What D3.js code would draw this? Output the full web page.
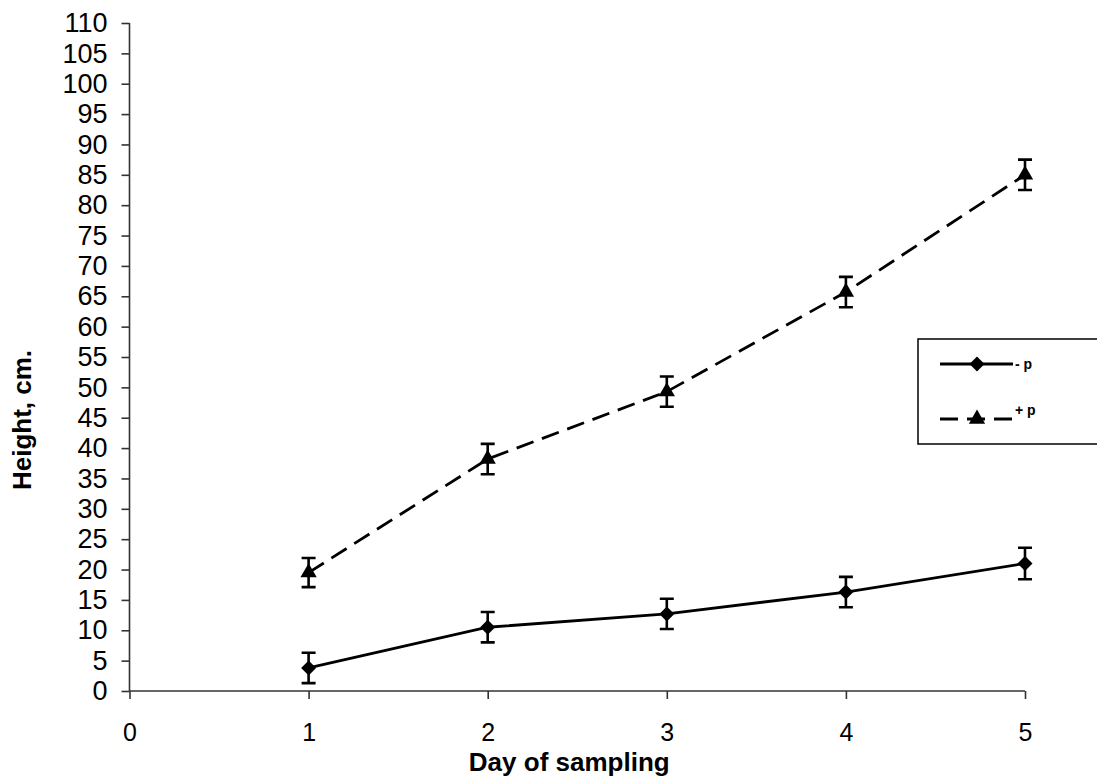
<!DOCTYPE html>
<html>
<head>
<meta charset="utf-8">
<script src="https://cdn.jsdelivr.net/npm/d3@7"></script>
<style>
  html, body { margin: 0; padding: 0; background: #fff; }
  svg { display: block; }
  text { font-family: "Liberation Sans", Arial, sans-serif; fill: #000; }
</style>
</head>
<body>
<script>
// Plant height by sampling day, with and without P
const days = [1, 2, 3, 4, 5];
const minusP = [3.8, 10.5, 12.7, 16.3, 21.0];
const minusPErr = [2.5, 2.5, 2.5, 2.5, 2.6];
const plusP = [19.5, 38.2, 49.3, 65.7, 85.0];
const plusPErr = [2.4, 2.5, 2.5, 2.5, 2.5];
const xTicks = [0, 1, 2, 3, 4, 5];
const yTicks = d3.range(0, 111, 5);
const seriesNames = ["- p", "+ p"];

const W = 1097, H = 778;
const svg = d3.select("body").append("svg").attr("width", W).attr("height", H);

const x = d3.scaleLinear().domain([0, 5]).range([129.5, 1025]);
const y = d3.scaleLinear().domain([0, 110]).range([691, 23]);

// Axes
const yAxis = svg.append("g").attr("transform", `translate(${x(0)},0)`)
  .call(d3.axisLeft(y).tickValues(yTicks).tickFormat(d3.format("d")).tickSize(8).tickPadding(14));
const xAxis = svg.append("g").attr("transform", `translate(0,${y(0)})`)
  .call(d3.axisBottom(x).tickValues(xTicks).tickFormat(d3.format("d")).tickSize(8).tickPadding(24));
[yAxis, xAxis].forEach(g => {
  g.select(".domain").attr("stroke", "#333").attr("stroke-width", 1.6);
  g.selectAll(".tick line").attr("stroke", "#333").attr("stroke-width", 1.6);
  g.selectAll(".tick text").attr("fill", "#000");
});
yAxis.selectAll(".tick text").style("font-size", "27px");
xAxis.selectAll(".tick text").style("font-size", "25px");
// keep only the axis line (no outer end ticks)
yAxis.select(".domain").attr("d", `M0,${y(0)}V${y(110)}`);
xAxis.select(".domain").attr("d", `M${x(0)},0H${x(5)}`);

// Axis titles
svg.append("text").attr("x", (x(0) + x(5)) / 2 - 8).attr("y", 771)
  .attr("text-anchor", "middle").style("font-size", "26px").style("font-weight", "bold")
  .text("Day of sampling");
svg.append("text").attr("transform", "translate(31,420) rotate(-90)")
  .attr("text-anchor", "middle").style("font-size", "26px").style("font-weight", "bold")
  .text("Height, cm.");

// square-ish diamond marker
const diamond = () => "M0,-7.5L7.5,0L0,7.5L-7.5,0Z";
const triangle = d3.symbol().type(d3.symbolTriangle).size(115);

function drawSeries(vals, errs, dash, sym) {
  const line = d3.line().x((d, i) => x(days[i])).y(d => y(d));
  svg.append("path").datum(vals).attr("d", line)
    .attr("fill", "none").attr("stroke", "#000").attr("stroke-width", 2.8)
    .attr("stroke-dasharray", dash);
  const g = svg.append("g");
  vals.forEach((v, i) => {
    const cx = x(days[i]);
    const y1 = y(v + errs[i]), y2 = y(v - errs[i]);
    g.append("path")
      .attr("d", `M${cx},${y1}V${y2}M${cx - 7},${y1}H${cx + 7}M${cx - 7},${y2}H${cx + 7}`)
      .attr("stroke", "#000").attr("stroke-width", 2.6).attr("fill", "none");
    g.append("path").attr("d", sym).attr("transform", `translate(${cx},${y(v)})`)
      .attr("fill", "#000");
  });
}
drawSeries(minusP, minusPErr, null, diamond());
drawSeries(plusP, plusPErr, "18,9", triangle());

// Legend
const lg = svg.append("g");
lg.append("rect").attr("x", 918).attr("y", 339).attr("width", 200).attr("height", 105)
  .attr("fill", "#fff").attr("stroke", "#000").attr("stroke-width", 1.5);
const legendRows = [
  { name: seriesNames[0], y: 364, dash: null, sym: diamond(), ty: 369 },
  { name: seriesNames[1], y: 419, dash: "18,9", sym: triangle(), ty: 415 }
];
legendRows.forEach(r => {
  lg.append("line").attr("x1", 940).attr("x2", 1013).attr("y1", r.y).attr("y2", r.y)
    .attr("stroke", "#000").attr("stroke-width", 2.8).attr("stroke-dasharray", r.dash);
  lg.append("path").attr("d", r.sym).attr("transform", `translate(977,${r.y})`).attr("fill", "#000");
  lg.append("text").attr("x", 1015).attr("y", r.ty)
    .style("font-size", "14px").style("font-weight", "bold").text(r.name);
});
</script>
</body>
</html>
